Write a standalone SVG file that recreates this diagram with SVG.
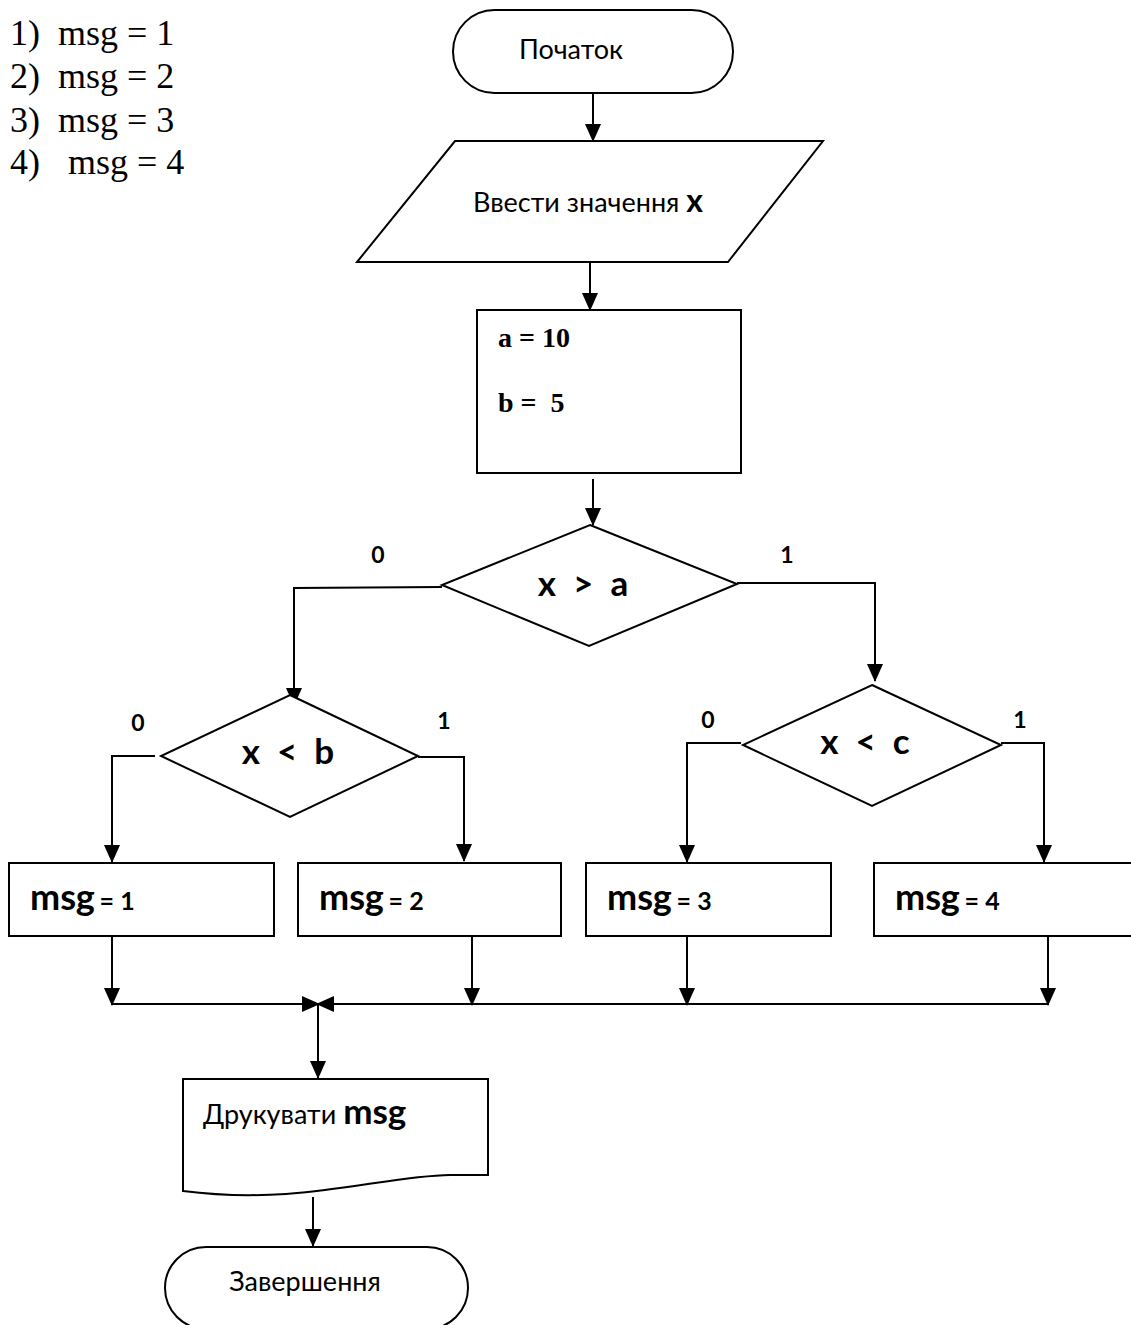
<svg xmlns="http://www.w3.org/2000/svg" width="1131" height="1325" viewBox="0 0 1131 1325">
<defs>
<marker id="ah" markerUnits="userSpaceOnUse" markerWidth="18" markerHeight="18" refX="17" refY="8" orient="auto" viewBox="0 0 18 16">
<path d="M0,0 L18,8 L0,16 Z" fill="#000"/>
</marker>
</defs>
<style>
.s{fill:#fff;stroke:#000;stroke-width:2}
.c{fill:none;stroke:#000;stroke-width:2}
.ca{fill:none;stroke:#000;stroke-width:2;marker-end:url(#ah)}
.t{font-family:Lato,"Open Sans",sans-serif;font-size:27px;fill:#000}
.b{font-family:Lato,"Open Sans",sans-serif;font-weight:bold;fill:#000}
.tm{font-family:"Liberation Serif",serif;font-size:36px;fill:#000}
.tb{font-family:"Liberation Serif",serif;font-weight:bold;font-size:28px;fill:#000}
</style>
<rect width="1131" height="1325" fill="#fff"/>
<g id="legend">
<text class="tm" x="10" y="45">1)</text><text class="tm" x="58" y="45">msg = 1</text>
<text class="tm" x="10" y="88">2)</text><text class="tm" x="58" y="88">msg = 2</text>
<text class="tm" x="10" y="132">3)</text><text class="tm" x="58" y="132">msg = 3</text>
<text class="tm" x="10" y="174">4)</text><text class="tm" x="68" y="174">msg = 4</text>
</g>
<g id="connectors">
<line class="ca" x1="593" y1="93" x2="593" y2="141"/>
<line class="ca" x1="590" y1="262" x2="590" y2="310"/>
<line class="ca" x1="593" y1="479" x2="593" y2="525"/>
<polyline class="ca" points="442,587 294,588 294,705"/>
<polyline class="ca" points="737,583 875,583 875,681"/>
<polyline class="ca" points="155,756 112,756 112,862"/>
<polyline class="ca" points="418,757 464,757 464,861"/>
<polyline class="ca" points="741,743 687,743 687,862"/>
<polyline class="ca" points="1001,743 1044,743 1044,862"/>
<line class="ca" x1="112" y1="936" x2="112" y2="1005"/>
<line class="ca" x1="472" y1="936" x2="472" y2="1005"/>
<line class="ca" x1="687" y1="936" x2="687" y2="1005"/>
<line class="ca" x1="1048" y1="936" x2="1048" y2="1005"/>
<line class="ca" x1="112" y1="1004" x2="319" y2="1004"/>
<line class="ca" x1="1048" y1="1004" x2="317" y2="1004"/>
<line class="ca" x1="318" y1="1004" x2="318" y2="1078"/>
<line class="ca" x1="313" y1="1197" x2="313" y2="1246"/>
</g>
<g id="start">
<rect class="s" x="453" y="10" width="280" height="83" rx="41.5" ry="41.5"/>
<text class="t" x="571" y="59" text-anchor="middle">Початок</text>
</g>
<g id="input">
<polygon class="s" points="455,141 823,141 728,262 357,262"/>
<text class="t" x="473" y="212">Ввести значення <tspan class="b" font-size="32">x</tspan></text>
</g>
<g id="assign">
<rect class="s" x="477" y="310" width="264" height="163"/>
<text class="tb" x="498" y="347">a = 10</text>
<text class="tb" x="498" y="412" xml:space="preserve">b =  5</text>
</g>
<g id="cond1">
<polygon class="s" points="590,525 737,584 589,646 442,585"/>
<text class="b" font-size="35" x="583" y="596" text-anchor="middle" xml:space="preserve">x  &gt;  a</text>
<text class="b" font-size="23" x="378" y="563" text-anchor="middle">0</text>
<text class="b" font-size="23" x="787" y="563" text-anchor="middle">1</text>
</g>
<g id="cond2">
<polygon class="s" points="290,695 418,756 290,817 161,756"/>
<text class="b" font-size="35" x="288" y="764" text-anchor="middle" xml:space="preserve">x  &lt;  b</text>
<text class="b" font-size="23" x="138" y="731" text-anchor="middle">0</text>
<text class="b" font-size="23" x="444" y="729" text-anchor="middle">1</text>
</g>
<g id="cond3">
<polygon class="s" points="872,685 1001,745 872,806 743,745"/>
<text class="b" font-size="35" x="865" y="754" text-anchor="middle" xml:space="preserve">x  &lt;  c</text>
<text class="b" font-size="23" x="708" y="728" text-anchor="middle">0</text>
<text class="b" font-size="23" x="1020" y="728" text-anchor="middle">1</text>
</g>
<g id="msg1">
<rect class="s" x="9" y="863" width="265" height="73"/>
<text class="b" font-size="36" x="30" y="910">msg <tspan font-size="25" dx="-4">= 1</tspan></text>
</g>
<g id="msg2">
<rect class="s" x="298" y="863" width="263" height="73"/>
<text class="b" font-size="36" x="319" y="910">msg <tspan font-size="25" dx="-4">= 2</tspan></text>
</g>
<g id="msg3">
<rect class="s" x="586" y="863" width="245" height="73"/>
<text class="b" font-size="36" x="607" y="910">msg <tspan font-size="25" dx="-4">= 3</tspan></text>
</g>
<g id="msg4">
<rect class="s" x="874" y="863" width="270" height="73"/>
<text class="b" font-size="36" x="895" y="910">msg <tspan font-size="25" dx="-4">= 4</tspan></text>
</g>
<g id="print">
<path class="s" d="M183,1079 L488,1079 L488,1175 L450,1175 C380,1176 300,1206 183,1191 Z"/>
<text class="t" x="203" y="1124">Друкувати <tspan class="b" font-size="35">msg</tspan></text>
</g>
<g id="end">
<rect class="s" x="165" y="1247" width="303" height="82" rx="41" ry="41"/>
<text class="t" x="305" y="1291" text-anchor="middle">Завершення</text>
</g>
</svg>
